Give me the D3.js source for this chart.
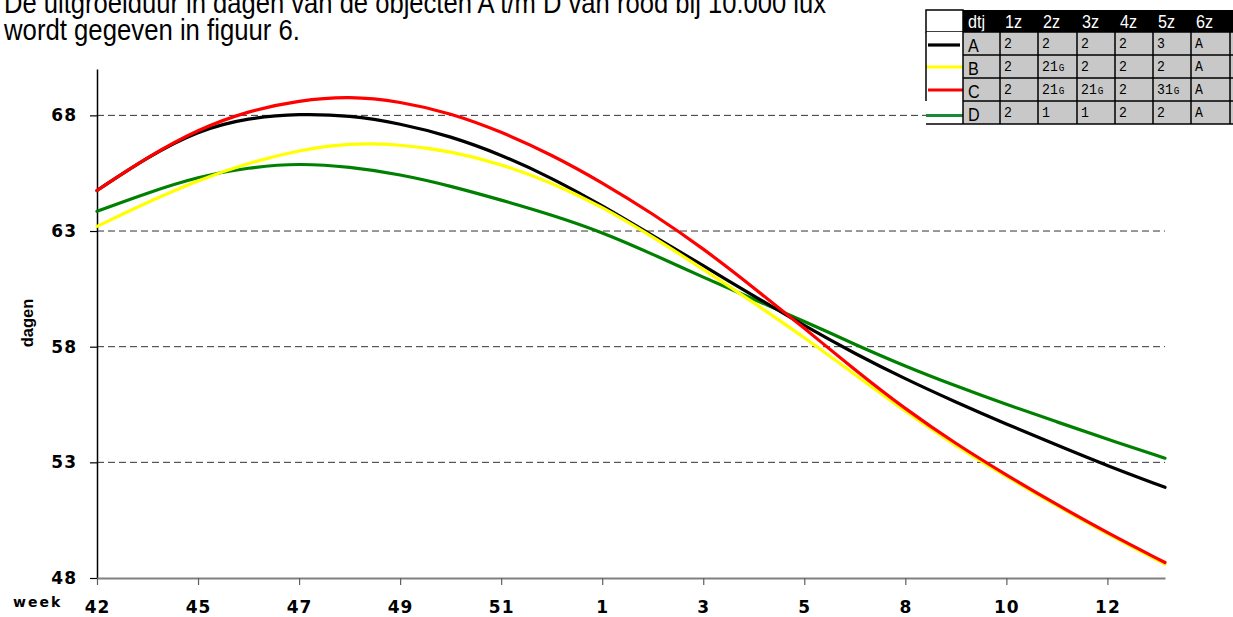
<!DOCTYPE html>
<html>
<head>
<meta charset="utf-8">
<script src="https://cdn.jsdelivr.net/npm/d3@7"></script>
<style>
  html, body { margin: 0; padding: 0; background: #fff; }
  svg { display: block; }
</style>
</head>
<body>
<svg id="chart" width="1233" height="617"></svg>
<script>
// Week labels along the bottom axis (positions 0..10)
const weeks = ["42", "45", "47", "49", "51", "1", "3", "5", "8", "10", "12"];
// Sample positions along the week axis (half-week steps, last one at the right edge)
const samplePos = [0, 0.5, 1, 1.5, 2, 2.5, 3, 3.5, 4, 4.5, 5, 5.5, 6, 6.5, 7, 7.5, 8, 8.5, 9, 9.5, 10, 10.57];
// Growing-out time in days per object
const objA = [64.75, 66.2, 67.35, 67.9, 68.07, 68.0, 67.65, 67.1, 66.3, 65.3, 64.1, 62.8, 61.5, 60.2, 58.9, 57.7, 56.6, 55.6, 54.65, 53.75, 52.85, 51.92];
const objB = [63.2, 64.25, 65.2, 65.95, 66.5, 66.8, 66.75, 66.45, 65.9, 65.1, 64.05, 62.75, 61.35, 59.9, 58.4, 56.8, 55.2, 53.7, 52.38, 51.12, 49.9, 48.6];
const objC = [64.75, 66.2, 67.4, 68.2, 68.65, 68.84, 68.6, 68.1, 67.3, 66.3, 65.1, 63.75, 62.25, 60.55, 58.8, 57.0, 55.3, 53.8, 52.45, 51.17, 49.95, 48.67];
const objD = [63.85, 64.65, 65.35, 65.75, 65.93, 65.78, 65.45, 64.95, 64.34, 63.7, 62.95, 62.0, 61.0, 60.05, 59.1, 58.1, 57.15, 56.3, 55.5, 54.75, 54.0, 53.18];
// Y axis tick values
const yTicks = [48, 53, 58, 63, 68];
const gridValues = [53, 58, 63, 68];

// Legend / treatment table
const tableHeader = ["dtj", "1z", "2z", "3z", "4z", "5z", "6z", ""];
const tableRows = [
  { name: "A", color: "#000000", cells: ["2", "2", "2", "2", "3", "A", ""] },
  { name: "B", color: "#ffff00", cells: ["2", "21G", "2", "2", "2", "A", ""] },
  { name: "C", color: "#ff0000", cells: ["2", "21G", "21G", "2", "31G", "A", ""] },
  { name: "D", color: "#1a8a3a", cells: ["2", "1", "1", "2", "2", "A", ""] }
];

const series = [
  { key: "D", values: objD, color: "#008000" },
  { key: "A", values: objA, color: "#000000" },
  { key: "B", values: objB, color: "#ffff00" },
  { key: "C", values: objC, color: "#ff0000" }
];

const svg = d3.select("#chart");
svg.append("rect").attr("width", 1233).attr("height", 617).attr("fill", "#fff");

const x = d3.scaleLinear().domain([0, 10.57]).range([97, 1165]);
const y = d3.scaleLinear().domain([48, 70]).range([578, 69.1]);

// Intro text above the figure (condensed sans)
const intro = svg.append("g")
  .attr("font-family", "'Liberation Sans', Arial, sans-serif")
  .attr("font-size", 29)
  .attr("fill", "#000");
intro.append("text").attr("x", 4).attr("y", 12.5)
  .attr("textLength", 822).attr("lengthAdjust", "spacingAndGlyphs")
  .text("De uitgroeiduur in dagen van de objecten A t/m D van rood bij 10.000 lux");
intro.append("text").attr("x", 4).attr("y", 39.5)
  .attr("textLength", 296).attr("lengthAdjust", "spacingAndGlyphs")
  .text("wordt gegeven in figuur 6.");

// Dashed gridlines
svg.append("g").selectAll("line").data(gridValues).join("line")
  .attr("x1", x(0)).attr("x2", x(10.57))
  .attr("y1", d => y(d)).attr("y2", d => y(d))
  .attr("stroke", "#333").attr("stroke-width", 1)
  .attr("stroke-dasharray", "7,4");

// Y axis
const yAxis = svg.append("g")
  .attr("transform", `translate(${x(0)},0)`)
  .call(d3.axisLeft(y).tickValues(yTicks).tickSize(7).tickSizeOuter(0).tickPadding(13));
yAxis.select(".domain").attr("stroke", "#000").attr("stroke-width", 1.5);
yAxis.selectAll(".tick line").attr("stroke", "#000").attr("stroke-width", 1.2);
yAxis.selectAll(".tick text")
  .attr("font-family", "'DejaVu Sans', sans-serif")
  .attr("font-weight", "bold").attr("font-size", 17)
  .attr("letter-spacing", 1)
  .attr("fill", "#000");

// X axis
const xAxis = svg.append("g")
  .attr("transform", `translate(0,${y(48)})`)
  .call(d3.axisBottom(x).tickValues(d3.range(weeks.length)).tickFormat(i => weeks[i])
    .tickSize(7).tickSizeOuter(0).tickPadding(16));
xAxis.select(".domain").attr("stroke", "#808080").attr("stroke-width", 2);
xAxis.selectAll(".tick line").attr("stroke", "#606060").attr("stroke-width", 1.2);
xAxis.selectAll(".tick text")
  .attr("font-family", "'DejaVu Sans', sans-serif")
  .attr("font-weight", "bold").attr("font-size", 17)
  .attr("letter-spacing", 1)
  .attr("fill", "#000");

// Axis titles
svg.append("text")
  .attr("x", 13).attr("y", 607)
  .attr("font-family", "'DejaVu Sans', sans-serif")
  .attr("font-weight", "bold").attr("font-size", 14)
  .attr("letter-spacing", 2)
  .text("week");
svg.append("text")
  .attr("transform", "translate(33,323) rotate(-90)")
  .attr("text-anchor", "middle")
  .attr("font-family", "'Liberation Sans', Arial, sans-serif")
  .attr("font-weight", "bold").attr("font-size", 16.5)
  .text("dagen");

// Curves
const line = d3.line()
  .x((d, i) => x(samplePos[i]))
  .y(d => y(d))
  .curve(d3.curveBasis);
svg.append("g").selectAll("path").data(series).join("path")
  .attr("d", d => line(d.values))
  .attr("fill", "none")
  .attr("stroke", d => d.color)
  .attr("stroke-width", 3.2)
  .attr("stroke-linecap", "round")
  .attr("stroke-linejoin", "round");

// Legend table (top right)
const tbl = svg.append("g");
const colX = [926, 963, 1000, 1038, 1077, 1115, 1153, 1191, 1230, 1268];
const rowY = [10, 32, 55, 78, 101, 124];
const narrow = "'Liberation Sans', Arial, sans-serif";

// header row
tbl.append("rect").attr("x", colX[0]).attr("y", rowY[0])
  .attr("width", colX[1] - colX[0]).attr("height", rowY[1] - rowY[0])
  .attr("fill", "#fff").attr("stroke", "#000").attr("stroke-width", 1.5);
tbl.append("rect").attr("x", colX[1]).attr("y", rowY[0])
  .attr("width", colX[9] - colX[1]).attr("height", rowY[1] - rowY[0])
  .attr("fill", "#000");
tbl.selectAll("text.hdr").data(tableHeader).join("text")
  .attr("class", "hdr")
  .attr("transform", (d, i) => `translate(${colX[i + 1] + 5},${rowY[1] - 4}) scale(0.85,1)`)
  .attr("font-family", narrow)
  .attr("font-size", 19)
  .attr("fill", "#fff")
  .text(d => d);

// body rows
tableRows.forEach((r, ri) => {
  const y0 = rowY[ri + 1], y1 = rowY[ri + 2];
  tbl.append("rect").attr("x", colX[0]).attr("y", y0)
    .attr("width", colX[1] - colX[0]).attr("height", y1 - y0)
    .attr("fill", "#fff");
  tbl.append("rect").attr("x", colX[1]).attr("y", y0)
    .attr("width", colX[9] - colX[1]).attr("height", y1 - y0)
    .attr("fill", "#c8c8c8");
  tbl.append("text")
    .attr("transform", `translate(${colX[1] + 5},${y1 - 3}) scale(0.85,1)`)
    .attr("font-family", narrow)
    .attr("font-size", 19).attr("fill", "#000")
    .text(r.name);
  r.cells.forEach((c, ci) => {
    if (!c) return;
    const t = tbl.append("text")
      .attr("transform", `translate(${colX[ci + 2] + 4},${y0 + 16}) scale(0.85,1)`)
      .attr("font-family", "'Liberation Mono', 'DejaVu Sans Mono', monospace")
      .attr("font-size", 15.5).attr("fill", "#000");
    const m = c.match(/^(\d+)(G)$/);
    if (m) {
      t.append("tspan").text(m[1]);
      t.append("tspan").attr("font-size", 11).attr("dx", 1).text(m[2]);
    } else {
      t.text(c);
    }
  });
});
// legend swatches
const swY = [45, 67, 90, 115.5];
tableRows.forEach((r, ri) => {
  tbl.append("line")
    .attr("x1", ri === 1 || ri === 3 ? 926 : 928).attr("x2", ri === 0 ? 960 : 963)
    .attr("y1", swY[ri]).attr("y2", swY[ri])
    .attr("stroke", r.color).attr("stroke-width", 3.2);
});
// table borders
tbl.selectAll("line.rsep").data(rowY.slice(1, 5)).join("line")
  .attr("class", "rsep")
  .attr("x1", colX[1]).attr("x2", 1233)
  .attr("y1", d => d).attr("y2", d => d)
  .attr("stroke", "#000").attr("stroke-width", 1.5);
tbl.selectAll("line.csep").data(colX.slice(1, 9)).join("line")
  .attr("class", "csep")
  .attr("x1", d => d).attr("x2", d => d)
  .attr("y1", rowY[1]).attr("y2", rowY[5])
  .attr("stroke", "#000").attr("stroke-width", 1.5);
tbl.append("line")
  .attr("x1", colX[0]).attr("x2", 1233)
  .attr("y1", rowY[5]).attr("y2", rowY[5])
  .attr("stroke", "#000").attr("stroke-width", 1.5);
tbl.append("line")
  .attr("x1", colX[0]).attr("x2", colX[0])
  .attr("y1", rowY[1]).attr("y2", rowY[4])
  .attr("stroke", "#000").attr("stroke-width", 1.5);
</script>
</body>
</html>
